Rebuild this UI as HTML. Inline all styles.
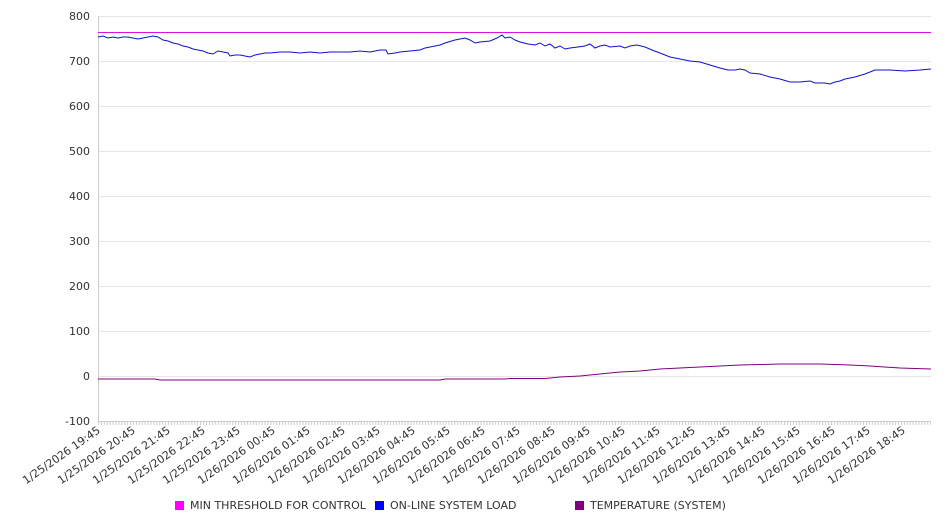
<!DOCTYPE html>
<html><head><meta charset="utf-8"><style>
html,body{margin:0;padding:0;background:#fff;}
svg{display:block;font-family:"DejaVu Sans","Liberation Sans",sans-serif;}
</style></head><body>
<svg width="946" height="526" viewBox="0 0 946 526" xmlns="http://www.w3.org/2000/svg">
<defs>
<pattern id="tk" x="98" y="0" width="2.92" height="10" patternUnits="userSpaceOnUse">
<rect x="0" y="0" width="1" height="10" fill="#ccc"/>
</pattern>
</defs>
<g stroke="#e6e6e6" stroke-width="1">
<line x1="98" y1="16.5" x2="931" y2="16.5"/>
<line x1="98" y1="61.5" x2="931" y2="61.5"/>
<line x1="98" y1="106.5" x2="931" y2="106.5"/>
<line x1="98" y1="151.5" x2="931" y2="151.5"/>
<line x1="98" y1="196.5" x2="931" y2="196.5"/>
<line x1="98" y1="241.5" x2="931" y2="241.5"/>
<line x1="98" y1="286.5" x2="931" y2="286.5"/>
<line x1="98" y1="331.5" x2="931" y2="331.5"/>
<line x1="98" y1="376.5" x2="931" y2="376.5"/>
</g>
<line x1="98.5" y1="16" x2="98.5" y2="421" stroke="#ccc"/>
<line x1="98" y1="421.5" x2="931" y2="421.5" stroke="#ccc"/>
<rect x="98" y="421" width="833" height="4" fill="url(#tk)"/>
<g font-size="11" fill="#333" text-anchor="end">
<text x="90" y="20">800</text>
<text x="90" y="65">700</text>
<text x="90" y="110">600</text>
<text x="90" y="155">500</text>
<text x="90" y="200">400</text>
<text x="90" y="245">300</text>
<text x="90" y="290">200</text>
<text x="90" y="335">100</text>
<text x="90" y="380">0</text>
<text x="90" y="425">-100</text>
</g>
<g font-size="11" fill="#333" text-anchor="end">
<text transform="translate(101,432) rotate(-35)">1/25/2026 19:45</text>
<text transform="translate(136,432) rotate(-35)">1/25/2026 20:45</text>
<text transform="translate(171,432) rotate(-35)">1/25/2026 21:45</text>
<text transform="translate(206,432) rotate(-35)">1/25/2026 22:45</text>
<text transform="translate(241,432) rotate(-35)">1/25/2026 23:45</text>
<text transform="translate(276,432) rotate(-35)">1/26/2026 00:45</text>
<text transform="translate(311,432) rotate(-35)">1/26/2026 01:45</text>
<text transform="translate(346,432) rotate(-35)">1/26/2026 02:45</text>
<text transform="translate(381,432) rotate(-35)">1/26/2026 03:45</text>
<text transform="translate(416,432) rotate(-35)">1/26/2026 04:45</text>
<text transform="translate(451,432) rotate(-35)">1/26/2026 05:45</text>
<text transform="translate(486,432) rotate(-35)">1/26/2026 06:45</text>
<text transform="translate(521,432) rotate(-35)">1/26/2026 07:45</text>
<text transform="translate(556,432) rotate(-35)">1/26/2026 08:45</text>
<text transform="translate(591,432) rotate(-35)">1/26/2026 09:45</text>
<text transform="translate(626,432) rotate(-35)">1/26/2026 10:45</text>
<text transform="translate(661,432) rotate(-35)">1/26/2026 11:45</text>
<text transform="translate(696,432) rotate(-35)">1/26/2026 12:45</text>
<text transform="translate(731,432) rotate(-35)">1/26/2026 13:45</text>
<text transform="translate(766,432) rotate(-35)">1/26/2026 14:45</text>
<text transform="translate(801,432) rotate(-35)">1/26/2026 15:45</text>
<text transform="translate(836,432) rotate(-35)">1/26/2026 16:45</text>
<text transform="translate(871,432) rotate(-35)">1/26/2026 17:45</text>
<text transform="translate(906,432) rotate(-35)">1/26/2026 18:45</text>
</g>
<line x1="98" y1="32.5" x2="931" y2="32.5" stroke="#e010e0" stroke-width="1"/>
<polyline fill="none" stroke="#1010d0" stroke-width="1" points="98,37 103,36 108,38 113,37 118,38 123,37 128,37 133,38 138,39 143,38 148,37 153,36 158,37 163,40 168,41 173,43 178,44 183,46 188,47 193,49 198,50 203,51 208,53 213,54 218,51 223,52 228,53 230,56 235,55 240,55 245,56 250,57 255,55 260,54 265,53 270,53 280,52 290,52 300,53 310,52 320,53 330,52 340,52 350,52 360,51 370,52 380,50 386,50 388,54 395,53 400,52 410,51 420,50 425,48 430,47 440,45 445,43 455,40 465,38 470,40 475,43 480,42 490,41 497,38 502,35 505,38 510,37 515,40 520,42 528,44 535,45 540,43 545,46 550,44 555,48 560,46 565,49 570,48 578,47 585,46 590,44 595,48 600,46 605,45 610,47 620,46 625,48 630,46 637,45 645,47 652,50 660,53 670,57 680,59 690,61 700,62 710,65 720,68 728,70 735,70 740,69 745,70 750,73 760,74 770,77 780,79 790,82 800,82 810,81 815,83 825,83 830,84 835,82 840,81 845,79 855,77 865,74 875,70 890,70 905,71 920,70 931,69"/>
<polyline fill="none" stroke="#800080" stroke-width="1" points="98,379 155,379 160,380 300,380 440,380 445,379 505,379 510,378.5 545,378.5 560,377 580,376 600,374 620,372 640,371 660,369 680,368 700,367 720,366 740,365 760,364.5 780,364 820,364 850,365 870,366 900,368 931,369"/>
<g font-size="11" fill="#333">
<rect x="175" y="501" width="9" height="9" fill="#ff00ff"/><text x="190" y="509">MIN THRESHOLD FOR CONTROL</text>
<rect x="375" y="501" width="9" height="9" fill="#0000ff"/><text x="390" y="509">ON-LINE SYSTEM LOAD</text>
<rect x="575" y="501" width="9" height="9" fill="#800080"/><text x="590" y="509">TEMPERATURE (SYSTEM)</text>
</g>
</svg>
</body></html>
